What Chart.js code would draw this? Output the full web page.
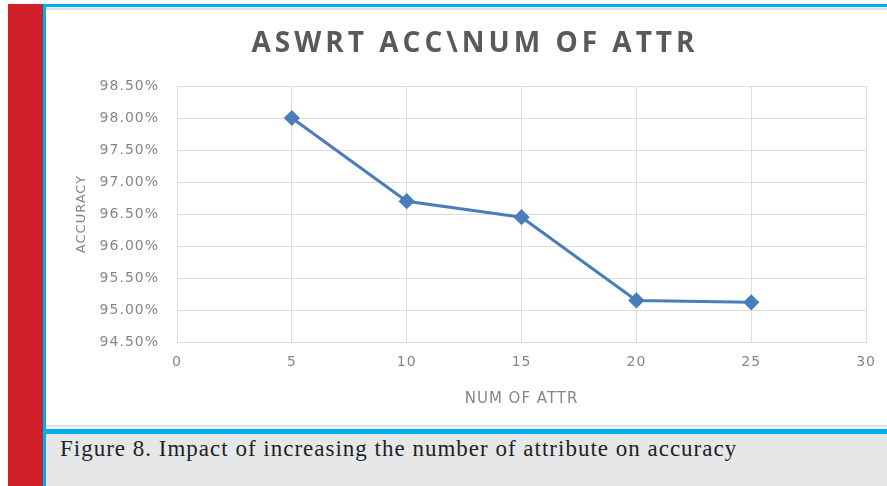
<!DOCTYPE html>
<html>
<head>
<meta charset="utf-8">
<script src="https://cdn.jsdelivr.net/npm/chart.js@4"></script>
<style>
  body { margin: 0; background: #fff; width: 887px; height: 486px; overflow: hidden; position: relative; }
  .redbar { position: absolute; left: 8px; top: 4px; width: 35px; height: 482px; background: #d1202a; }
  .blueleft { position: absolute; left: 43px; top: 4px; width: 3px; height: 482px; background: #00aeef; }
  .bluetop { position: absolute; left: 43px; top: 4px; right: 0; height: 3px; background: #00aeef; }
  .graytop { position: absolute; left: 46px; top: 8px; right: 0; height: 2px; background: #dedede; }
  .graybot { position: absolute; left: 46px; top: 425px; right: 0; height: 2px; background: #e2e2e2; }
  .bluebot { position: absolute; left: 43px; top: 429px; right: 0; height: 5px; background: #00aeef; }
  .caption {
    position: absolute; left: 46px; top: 434px; right: 0; bottom: 0; background: #e6e7e9;
    font-family: "Liberation Serif", serif; font-size: 23px; letter-spacing: 1px; color: #231f20;
    padding-left: 14px; line-height: 30px;
  }
  #chartBox { position: absolute; left: 47px; top: 10px; }
</style>
</head>
<body>
<div class="redbar"></div>
<div class="bluetop"></div>
<div class="blueleft"></div>
<div class="graytop"></div>
<div class="graybot"></div>
<div class="bluebot"></div>
<div class="caption">Figure 8. Impact of increasing the number of attribute on accuracy</div>
<div id="chartBox"><canvas id="chart" width="840" height="415"></canvas></div>

<script>
// number of attributes vs. accuracy (%)
const attrCounts = [5, 10, 15, 20, 25];
const accuracy = [98.00, 96.70, 96.45, 95.15, 95.12];

const xTicks = [0, 5, 10, 15, 20, 25, 30];
const yTicks = [94.5, 95.0, 95.5, 96.0, 96.5, 97.0, 97.5, 98.0, 98.5];

const chartTitle = "ASWRT ACC\\NUM OF ATTR";

const lineColor = "#4a7ebb";
const gridColor = "#dcdcdc";
const labelColor = "#868686";

// spaced-out text for axes; the title is drawn here too, with wider tracking
const spacedText = {
  id: "spacedText",
  beforeDraw(chart) {
    chart.ctx.letterSpacing = "1px";
  },
  afterDraw(chart) {
    const c = chart.ctx;
    c.save();
    c.letterSpacing = "4px";
    c.font = "bold 28px 'Open Sans'";
    c.fillStyle = "#595959";
    c.textAlign = "center";
    c.textBaseline = "middle";
    c.fillText(chartTitle, 428, 34);
    c.restore();
    c.letterSpacing = "0px";
  }
};

const ctx = document.getElementById("chart").getContext("2d");

new Chart(ctx, {
  type: "line",
  data: {
    datasets: [{
      label: "Accuracy",
      data: attrCounts.map((n, i) => ({ x: n, y: accuracy[i] })),
      borderColor: lineColor,
      backgroundColor: lineColor,
      borderWidth: 3,
      pointStyle: "rectRot",
      pointRadius: 6,
      tension: 0
    }]
  },
  plugins: [spacedText],
  options: {
    responsive: false,
    animation: false,
    layout: { padding: { left: 0, right: 14, top: 76, bottom: 0 } },
    plugins: {
      legend: { display: false },
      tooltip: { enabled: false }
    },
    scales: {
      x: {
        type: "linear",
        min: xTicks[0],
        max: xTicks[xTicks.length - 1],
        afterBuildTicks: (scale) => { scale.ticks = xTicks.map(v => ({ value: v })); },
        afterFit: (scale) => { scale.height = 83; },
        grid: { color: gridColor, drawTicks: false },
        border: { color: gridColor },
        ticks: {
          padding: 12,
          color: labelColor,
          font: { family: "DejaVu Sans", size: 14 }
        },
        title: {
          display: true,
          text: "NUM OF ATTR",
          color: labelColor,
          font: { family: "DejaVu Sans", size: 15 },
          padding: { top: 0, bottom: 17 }
        }
      },
      y: {
        min: yTicks[0],
        max: yTicks[yTicks.length - 1],
        afterBuildTicks: (scale) => { scale.ticks = yTicks.map(v => ({ value: v })); },
        afterFit: (scale) => { scale.width = 130; },
        grid: { color: gridColor, drawTicks: false },
        border: { color: gridColor },
        ticks: {
          padding: 18,
          color: labelColor,
          font: { family: "DejaVu Sans", size: 14 },
          callback: (v) => v.toFixed(2) + "%"
        },
        title: {
          display: true,
          text: "ACCURACY",
          color: labelColor,
          font: { family: "DejaVu Sans", size: 13 },
          padding: { top: 27, bottom: 0 }
        }
      }
    }
  }
});
</script>
</body>
</html>
